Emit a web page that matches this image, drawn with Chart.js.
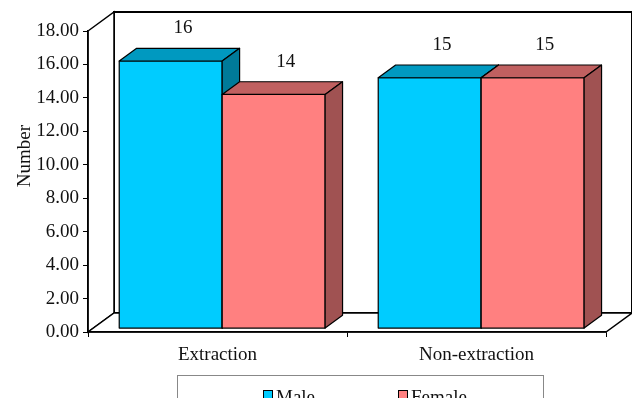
<!DOCTYPE html>
<html lang="en">
<head>
    <meta charset="UTF-8">
    <title>Number by group</title>
    <script src="https://cdn.jsdelivr.net/npm/chart.js"></script>
    <style>
        body { margin: 0; background: #fff; }
        canvas { display: block; }
    </style>
</head>
<body>
    <canvas id="chart" width="632" height="398"></canvas>

    <script>
        // data
        const categories = ['Extraction', 'Non-extraction'];
        const seriesNames = ['Male', 'Female'];
        const maleValues = [16, 15];
        const femaleValues = [14, 15];
        const yTitle = 'Number';
        const yMin = 0, yMax = 18, yStep = 2;

        const frontColors = ['#00CCFF', '#FF8080'];
        const topColors = ['#0099C0', '#C06060'];
        const sideColors = ['#007A99', '#A05252'];

        // 3D box depth and where the bars sit inside it
        const DX = 26, DY = -19;
        const F0 = 0.18, F1 = 0.85;
        const FONT = '"Liberation Serif", "Times New Roman", serif';
        const FSIZE = 19;

        function poly(ctx, pts) {
            ctx.beginPath();
            ctx.moveTo(pts[0][0], pts[0][1]);
            for (let i = 1; i < pts.length; i++) ctx.lineTo(pts[i][0], pts[i][1]);
            ctx.closePath();
            ctx.fill();
            ctx.stroke();
        }

        const box3d = {
            id: 'box3d',
            beforeDraw(chart) {
                const { ctx, chartArea: a } = chart;
                ctx.save();
                ctx.strokeStyle = '#000';
                ctx.fillStyle = '#fff';
                // back wall
                ctx.lineWidth = 2;
                ctx.beginPath();
                ctx.rect(a.left + DX, a.top + DY, a.right - a.left, a.bottom - a.top);
                ctx.fill();
                ctx.stroke();
                ctx.lineWidth = 1.5;
                // left wall
                poly(ctx, [[a.left, a.top], [a.left + DX, a.top + DY], [a.left + DX, a.bottom + DY], [a.left, a.bottom]]);
                // floor
                poly(ctx, [[a.left, a.bottom], [a.right, a.bottom], [a.right + DX, a.bottom + DY], [a.left + DX, a.bottom + DY]]);
                ctx.restore();
            },
            beforeDatasetsDraw(chart) {
                const ctx = chart.ctx;
                const fx = DX * F0, fy = DY * F0;
                const bx = DX * (F1 - F0), by = DY * (F1 - F0);
                ctx.save();
                ctx.strokeStyle = '#000';
                ctx.lineWidth = 1.2;
                ctx.lineJoin = 'round';
                const labels = [];
                categories.forEach((c, i) => {
                    chart.data.datasets.forEach((ds, d) => {
                        const el = chart.getDatasetMeta(d).data[i];
                        const p = el.getProps(['x', 'y', 'base', 'width'], true);
                        const l = p.x - p.width / 2 + fx, r = p.x + p.width / 2 + fx;
                        const t = p.y + fy, b = p.base + fy;
                        // front face
                        ctx.fillStyle = frontColors[d];
                        poly(ctx, [[l, t], [r, t], [r, b], [l, b]]);
                        // top face
                        ctx.fillStyle = topColors[d];
                        poly(ctx, [[l, t], [l + bx, t + by], [r + bx, t + by], [r, t]]);
                        // side face
                        ctx.fillStyle = sideColors[d];
                        poly(ctx, [[r, t], [r + bx, t + by], [r + bx, b + by], [r, b]]);
                        labels.push([String(ds.data[i]), p.x + fx + bx * 0.7, t + by - 20]);
                    });
                });
                ctx.fillStyle = '#111';
                ctx.font = FSIZE + 'px ' + FONT;
                ctx.textAlign = 'center';
                ctx.textBaseline = 'middle';
                labels.forEach(lb => ctx.fillText(lb[0], lb[1], lb[2]));
                ctx.restore();
                return false;
            },
            afterDraw(chart) {
                const ctx = chart.ctx;
                ctx.save();
                ctx.fillStyle = '#111';
                ctx.font = FSIZE + 'px ' + FONT;
                // y title
                ctx.translate(25, 156);
                ctx.rotate(-Math.PI / 2);
                ctx.textAlign = 'center';
                ctx.textBaseline = 'middle';
                ctx.fillText(yTitle, 0, 0);
                ctx.setTransform(1, 0, 0, 1, 0, 0);
                // legend frame and items
                ctx.strokeStyle = '#888';
                ctx.lineWidth = 1;
                ctx.strokeRect(177.5, 375.5, 366, 40);
                const itemX = [263, 398];
                chart.data.datasets.forEach((ds, d) => {
                    ctx.fillStyle = frontColors[d];
                    ctx.strokeStyle = '#000';
                    ctx.fillRect(itemX[d], 390, 9, 9);
                    ctx.strokeRect(itemX[d] + 0.5, 390.5, 9, 9);
                    ctx.fillStyle = '#111';
                    ctx.textAlign = 'left';
                    ctx.fillText(ds.label, itemX[d] + 13, 398);
                });
                ctx.restore();
            }
        };

        new Chart(document.getElementById('chart'), {
            type: 'bar',
            data: {
                labels: categories,
                datasets: [
                    { label: seriesNames[0], data: maleValues, backgroundColor: frontColors[0] },
                    { label: seriesNames[1], data: femaleValues, backgroundColor: frontColors[1] }
                ]
            },
            options: {
                responsive: false,
                animation: false,
                events: [],
                layout: { padding: { top: 31, right: 26, left: 0, bottom: 0 } },
                datasets: { bar: { categoryPercentage: 0.795, barPercentage: 1 } },
                plugins: { legend: { display: false }, tooltip: { enabled: false } },
                scales: {
                    x: {
                        grid: { drawOnChartArea: false, tickLength: 5, color: '#000' },
                        border: { color: '#000', width: 1.5 },
                        ticks: { color: '#111', padding: 7, font: { family: FONT, size: FSIZE } },
                        afterFit(scale) { scale.height = 66; }
                    },
                    y: {
                        min: yMin,
                        max: yMax,
                        grid: { drawOnChartArea: false, tickLength: 5, color: '#000' },
                        border: { color: '#000', width: 1.5 },
                        ticks: {
                            stepSize: yStep,
                            color: '#111',
                            padding: 4,
                            font: { family: FONT, size: FSIZE },
                            callback: v => v.toFixed(2)
                        },
                        afterFit(scale) { scale.width = 88; }
                    }
                }
            },
            plugins: [box3d]
        });
    </script>
</body>
</html>
